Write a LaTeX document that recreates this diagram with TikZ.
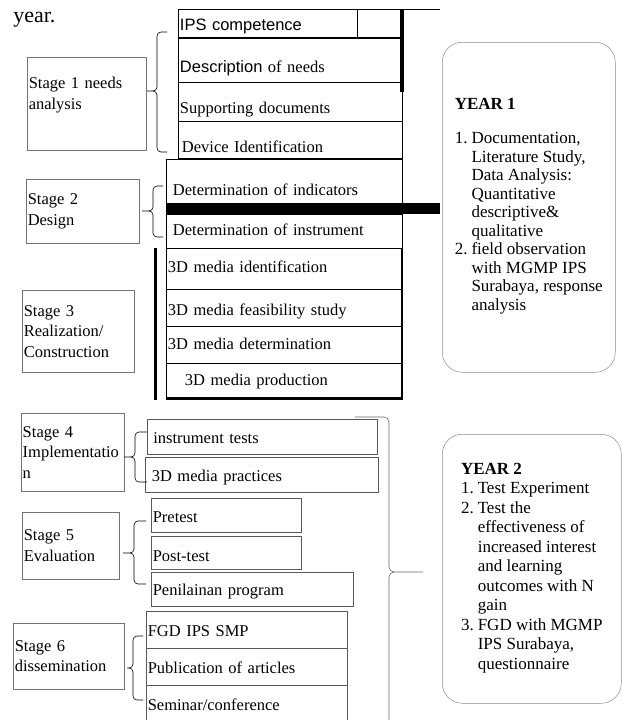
\documentclass[tikz,border=0pt]{standalone}
\usepackage{fontspec}
\setmainfont{Liberation Serif}
\newfontfamily\sansfont{Liberation Sans}
% brace: end x, spine x, tip x, top y, tip y, bottom y
\newcommand{\stagebrace}[6]{%
\draw (#1,#4) -- (#2+4,#4) to[out=180,in=90] (#2,#4+4) -- (#2,#5-4) to[out=-90,in=0] (#2-4,#5) -- (#3,#5);
\draw (#2-4,#5) to[out=0,in=90] (#2,#5+4) -- (#2,#6-4) to[out=-90,in=180] (#2+4,#6) -- (#1,#6);}
\begin{document}
\begin{tikzpicture}[x=1pt, y=-1pt, line width=0.6pt,
  stagebox/.style={draw=black!55, line width=0.5pt, anchor=north west, inner xsep=1.5pt, inner ysep=0pt, align=left, font=\fontsize{16.5}{20.5}\selectfont},
  taskbox/.style={draw, line width=0.9pt, anchor=north west, inner xsep=1.5pt, inner ysep=0pt, text height=18pt, text depth=4pt, align=left, font=\fontsize{16.5}{20.5}\selectfont},
  lowbox/.style={taskbox, draw=black!65, line width=0.6pt},
  yearbox/.style={draw=black!45, line width=0.5pt, rounded corners=20pt, anchor=north west, inner xsep=10pt, inner ysep=0pt, font=\fontsize{17}{18.5}\selectfont}]
\useasboundingbox (0,0) rectangle (622,720);
\node[anchor=base west, inner sep=0pt, font=\fontsize{22}{26}\selectfont] (yeartxt) at (13,22) {year.};

% stage 1
\node[stagebox, text width=116pt, minimum height=93pt] (stage1) at (27,57) {Stage 1 needs\\analysis\\\mbox{}};
\node[taskbox, text width=221pt, minimum height=28pt] (ipscomp) at (178,9) {\sansfont IPS competence};
\node[taskbox, text width=221pt, minimum height=44pt, text height=28pt] (needs) at (178,38) {{\sansfont Description} of needs};
\node[taskbox, text width=221pt, minimum height=39pt, text height=27pt] (supdoc) at (178,82) {Supporting documents};
\node[taskbox, text width=221pt, minimum height=37pt, text height=29pt] (devid) at (178,121) {\hspace*{2pt}Device Identification};
\draw (357,9) -- (357,37);
\draw (402,9) -- (440,9);
\draw[line width=3.5pt] (402,9) -- (402,92);
\stagebrace{167}{157}{147}{32}{91}{152}

% stage 2
\node[stagebox, text width=110pt, minimum height=64pt] (stage2) at (26,179) {Stage 2\\Design};
\node[taskbox, text width=233pt, minimum height=44pt, text height=32pt] (detind) at (166,159) {\hspace*{5pt}Determination of indicators};
\node[taskbox, text width=233pt, minimum height=34pt, text height=12pt] (detins) at (166,214) {\hspace*{5pt}Determination of instrument};
\fill (166,203) rectangle (440,214);
\stagebrace{163}{153}{142}{186}{211}{237}

% stage 3
\node[stagebox, text width=109pt, minimum height=82pt] (stage3) at (22,290) {Stage 3\\Realization/\\Construction};
\node[taskbox, text width=233pt, minimum height=41pt, text height=11pt] (mediaid) at (166,248) {3D media identification};
\node[taskbox, text width=233pt, minimum height=37pt, text height=19pt] (mediafeas) at (166,289) {3D media feasibility study};
\node[taskbox, text width=233pt, minimum height=37pt, text height=13pt] (mediadet) at (166,326) {3D media determination};
\node[taskbox, text width=233pt, minimum height=35pt, text height=13pt] (mediaprod) at (166,363) {\hspace*{17pt}3D media production};
\draw[line width=3pt] (155,248) -- (155,400);
\draw[line width=3pt] (166,398) -- (403,398);
\draw[line width=1.8pt] (402,248) -- (402,399);

% stage 4
\node[stagebox, text width=100pt, minimum height=78pt] (stage4) at (21,413) {Stage 4\\Implementatio\\n};
\node[lowbox, text width=227pt, minimum height=35pt] (insttest) at (147,419) {\hspace*{4.5pt}instrument tests};
\node[lowbox, text width=230pt, minimum height=35pt] (practice) at (145,457) {\hspace*{5pt}3D media practices};
\stagebrace{147}{135}{124}{432}{457}{482}

% stage 5
\node[stagebox, text width=94pt, minimum height=67pt] (stage5) at (22,512) {Stage 5\\Evaluation};
\node[lowbox, text width=147pt, minimum height=34pt] (pretest) at (151,498) {Pretest};
\node[lowbox, text width=147pt, minimum height=33pt, text height=21pt] (posttest) at (151,536) {Post-test};
\node[lowbox, text width=199pt, minimum height=34pt, text height=16pt] (penilaian) at (151,572) {Penilainan program};
\stagebrace{146}{134}{123}{521}{553}{584}

% stage 6
\node[stagebox, text width=108pt, minimum height=66pt] (stage6) at (13,623) {Stage 6\\dissemination};
\node[lowbox, text width=198pt, minimum height=37pt, text height=17pt] (fgd) at (146,611) {FGD IPS SMP};
\node[lowbox, text width=198pt, minimum height=37pt, text height=17pt] (articles) at (146,648) {Publication of articles};
\node[lowbox, text width=198pt, minimum height=40pt, text height=14pt] (seminar) at (146,685) {Seminar/conference};
\stagebrace{143}{133}{127}{636}{668}{700}

% year braces and boxes
\draw[black!60] (355,417) -- (384,417) to[out=0,in=90] (389,422) -- (389,567) to[out=-90,in=180] (394,572) -- (423,572);
\draw[black!60] (394,572) to[out=180,in=90] (389,577) -- (389,720);
\node[yearbox, minimum width=173pt, minimum height=330pt] (year1) at (442,42) {%
\begin{tabular}{@{}l@{\hspace{4pt}}l@{}}
\multicolumn{2}{@{}l@{}}{\textbf{YEAR 1}}\\[16pt]
1. & Documentation,\\
   & Literature Study,\\
   & Data Analysis:\\
   & Quantitative\\
   & descriptive\&\\
   & qualitative\\
2. & field observation\\
   & with MGMP IPS\\
   & Surabaya, response\\
   & analysis\\[2pt]
\end{tabular}};
\node[yearbox, minimum width=179pt, minimum height=269pt, font=\fontsize{17}{19.5}\selectfont] (year2) at (442,434) {%
\begin{tabular}{@{}l@{\hspace{4pt}}l@{}}
\multicolumn{2}{@{}l@{}}{\textbf{YEAR 2}}\\
1. & Test Experiment\\
2. & Test the\\
   & effectiveness of\\
   & increased interest\\
   & and learning\\
   & outcomes with N\\
   & gain\\
3. & FGD with MGMP\\
   & IPS Surabaya,\\
   & questionnaire\\[2pt]
\end{tabular}};
\end{tikzpicture}
\end{document}
